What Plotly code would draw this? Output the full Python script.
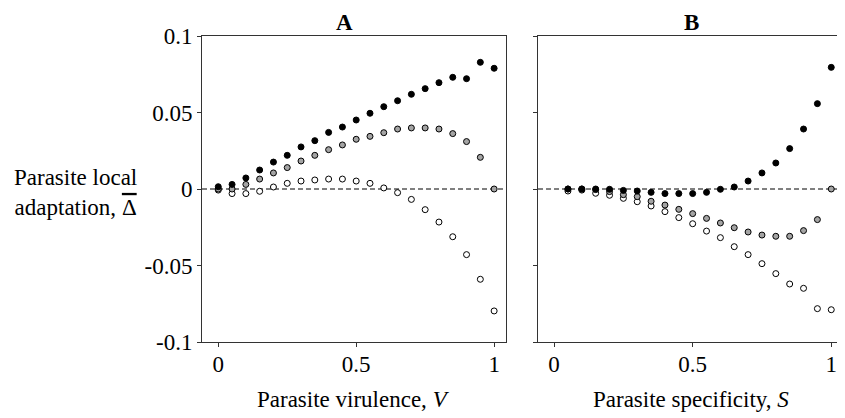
import plotly.graph_objects as go

# ---- data ----
x_a = [0, 0.05, 0.1, 0.15, 0.2, 0.25, 0.3, 0.35, 0.4, 0.45, 0.5, 0.55, 0.6, 0.65, 0.7, 0.75, 0.8, 0.85, 0.9, 0.95, 1.0]
a_black = [0.0015, 0.003, 0.0072, 0.0124, 0.0176, 0.022, 0.0275, 0.0316, 0.037, 0.0405, 0.0451, 0.0495, 0.0538,
           0.0577, 0.0619, 0.0656, 0.0695, 0.073, 0.0721, 0.0828, 0.0789]
a_gray = [0.0, 0.0, 0.003, 0.0065, 0.0105, 0.014, 0.0183, 0.022, 0.0257, 0.0288, 0.0325, 0.0344, 0.0368,
          0.0392, 0.0399, 0.0399, 0.0392, 0.0362, 0.031, 0.0207, 0.0]
a_white = [-0.0007, -0.003, -0.003, -0.0015, 0.0013, 0.0037, 0.0052, 0.0059, 0.0065, 0.0065, 0.0052, 0.0037,
           0.0007, -0.0024, -0.0068, -0.0135, -0.0216, -0.0312, -0.0429, -0.059, -0.0797]

x_b = [0.05, 0.1, 0.15, 0.2, 0.25, 0.3, 0.35, 0.4, 0.45, 0.5, 0.55, 0.6, 0.65, 0.7, 0.75, 0.8, 0.85, 0.9, 0.95, 1.0]
b_black = [0.0, 0.0, 0.0, -0.0002, -0.0009, -0.0013, -0.0022, -0.003, -0.003, -0.003, -0.0022, -0.0002,
           0.0013, 0.0052, 0.0105, 0.017, 0.0264, 0.0392, 0.0558, 0.0795]
b_gray = [0.0, 0.0, -0.0004, -0.0017, -0.0037, -0.005, -0.008, -0.0105, -0.0133, -0.0161, -0.0192, -0.0222,
          -0.0253, -0.0281, -0.0301, -0.0309, -0.0309, -0.0272, -0.02, 0.0]
b_white = [-0.0013, -0.0007, -0.0028, -0.0041, -0.0061, -0.0083, -0.0111, -0.0148, -0.0187, -0.0227, -0.0275,
           -0.0318, -0.0377, -0.0429, -0.0488, -0.0553, -0.0621, -0.0649, -0.0782, -0.0789]

y_tickvals = [-0.1, -0.05, 0, 0.05, 0.1]
y_ticktext = ['-0.1', '-0.05', '0', '0.05', '0.1']
x_tickvals = [0, 0.5, 1]
x_ticktext = ['0', '0.5', '1']

FONT = "Liberation Serif"

fig = go.Figure()

styles = [
    ("white", "white"),
    ("gray", "#a4a4a4"),
    ("black", "black"),
]

def add_panel(xs, series, xa, ya):
    for (name, fill), ys in zip(styles, series):
        fig.add_trace(go.Scatter(
            x=xs, y=ys, mode="markers", xaxis=xa, yaxis=ya, showlegend=False,
            marker=dict(size=6, color=fill, line=dict(color="black", width=1)),
        ))

add_panel(x_a, [a_white, a_gray, a_black], "x", "y")
add_panel(x_b, [b_white, b_gray, b_black], "x2", "y2")

for xr, yr in (("x", "y"), ("x2", "y2")):
    fig.add_shape(type="line", xref=f"{xr} domain", yref=yr, x0=0, x1=1, y0=0, y1=0,
                  line=dict(color="black", width=1, dash="5px,3px"), layer="below")

axis_common = dict(showgrid=False, zeroline=False, showline=True, linecolor="#333", linewidth=1,
                   mirror=True, ticks="outside", ticklen=4, tickcolor="#333",
                   tickfont=dict(family=FONT, size=23, color="black"))

# page body has an 8px margin: figure is sized to fit inside the 845x418 window
fig.update_layout(
    width=837, height=410,
    margin=dict(l=194, r=1, t=28, b=76),
    paper_bgcolor="white", plot_bgcolor="white",
    font=dict(family=FONT, size=23, color="black"),
    xaxis=dict(domain=[0, 0.4735], range=[-0.059, 1.043], tickvals=x_tickvals, ticktext=x_ticktext,
               anchor="y", ticklabelstandoff=-3, **axis_common),
    xaxis2=dict(domain=[0.5234, 1], range=[-0.058, 1.046], tickvals=x_tickvals, ticktext=x_ticktext,
                anchor="y2", ticklabelstandoff=-3, **axis_common),
    yaxis=dict(range=[-0.1, 0.1], tickvals=y_tickvals, ticktext=y_ticktext, anchor="x", **axis_common),
    yaxis2=dict(range=[-0.1, 0.1], tickvals=y_tickvals, ticktext=y_ticktext, showticklabels=False,
                anchor="x2", **axis_common),
)

ann_font = dict(family=FONT, size=23, color="black")
fig.add_annotation(text="<b>A</b>", xref="paper", yref="paper", x=0.2212, y=1.0425,
                   showarrow=False, font=ann_font, xanchor="center", yanchor="middle")
fig.add_annotation(text="<b>B</b>", xref="paper", yref="paper", x=0.7617, y=1.0425,
                   showarrow=False, font=ann_font, xanchor="center", yanchor="middle")
fig.add_annotation(text="Parasite virulence, <i>V</i>", xref="x domain", yref="paper", x=0.5, y=-0.1895,
                   showarrow=False, font=ann_font, xanchor="center", yanchor="middle")
fig.add_annotation(text="Parasite specificity, <i>S</i>", xref="x2 domain", yref="paper", x=0.5, y=-0.1895,
                   showarrow=False, font=ann_font, xanchor="center", yanchor="middle")
fig.add_annotation(text="Parasite local<br>adaptation, <span style='text-decoration:overline'>Δ</span>",
                   xref="paper", yref="paper", x=-0.1978, y=0.487,
                   showarrow=False, font=ann_font, xanchor="center", yanchor="middle", align="center")

fig.write_html("out.html")
